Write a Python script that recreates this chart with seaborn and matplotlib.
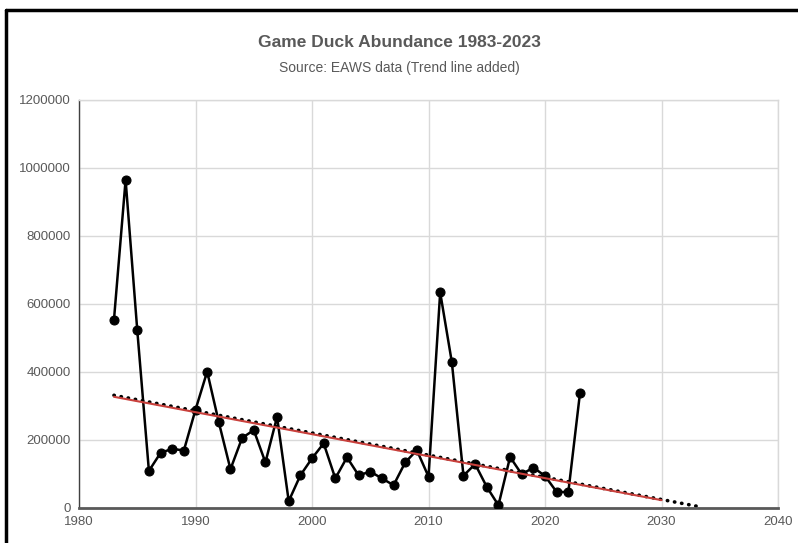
import numpy as np
import pandas as pd
import matplotlib
matplotlib.use('Agg')
import matplotlib.pyplot as plt
import seaborn as sns
from matplotlib.lines import Line2D

years = list(range(1983, 2024))
ducks = [553000, 965000, 523000, 109000, 162000, 174000, 169000, 289000, 401000, 252000,
         114000, 206000, 229000, 134000, 268000, 20000, 96000, 146000, 190000, 87000,
         149000, 96000, 107000, 87000, 67000, 134000, 170000, 92000, 634000, 429000,
         95000, 129000, 62000, 8000, 150000, 99000, 119000, 94000, 47000, 47000, 338000]

# hand drawn red line
red_years = [1983, 2030]
red_values = [327000, 23000]

x_ticks = [1980, 1990, 2000, 2010, 2020, 2030, 2040]
y_ticks = [0, 200000, 400000, 600000, 800000, 1000000, 1200000]

df = pd.DataFrame({'year': years, 'ducks': ducks})

sns.set_style('white')
plt.rcParams['font.family'] = ['Liberation Sans Narrow', 'Liberation Sans', 'DejaVu Sans']

fig = plt.figure(figsize=(7.98, 5.43), dpi=100)
ax = fig.add_axes([0.099, 0.0645, 0.876, 0.7515])

# linear trend, forecast 10 years forward
coef = np.polyfit(df['year'], df['ducks'], 1)
trend_x = np.array([1983, 2033])
ax.plot(trend_x, np.polyval(coef, trend_x), color='black', linestyle=(0, (0.1, 1.9)),
        linewidth=2.6, dash_capstyle='round', zorder=2)

sns.lineplot(data=df, x='year', y='ducks', ax=ax, color='black', marker='o',
             markersize=6.5, markeredgecolor='black', linewidth=1.8, zorder=3)

ax.plot(red_years, red_values, color='#c9403c', linewidth=1.5, zorder=4)

ax.set_xlim(1980, 2040)
ax.set_ylim(0, 1200000)
ax.set_xticks(x_ticks)
ax.set_yticks(y_ticks)
ax.set_xticklabels([str(t) for t in x_ticks])
ax.set_yticklabels([str(t) for t in y_ticks])
ax.tick_params(colors='#595959', labelsize=9.5, length=0, pad=6)
ax.set_xlabel('')
ax.set_ylabel('')
ax.grid(True, color='#d9d9d9', linewidth=1)
for s in ['top', 'right']:
    ax.spines[s].set_color('#d9d9d9')
    ax.spines[s].set_linewidth(1)
ax.spines['left'].set_color('#404040')
ax.spines['left'].set_linewidth(1)
ax.spines['bottom'].set_color('#595959')
ax.spines['bottom'].set_linewidth(2)

fig.text(0.5, 0.922, 'Game Duck Abundance 1983-2023', ha='center', va='center',
         fontsize=12.5, color='#595959', fontweight='bold')
fig.text(0.5, 0.875, 'Source: EAWS data (Trend line added)', ha='center', va='center',
         fontsize=10, color='#595959')

# black frame at top and left of the crop
fig.add_artist(Line2D([0.0075, 1.0], [0.981, 0.981], color='black', linewidth=2.5,
                      transform=fig.transFigure))
fig.add_artist(Line2D([0.0075, 0.0075], [0.0, 0.981], color='black', linewidth=2.5,
                      transform=fig.transFigure))

fig.savefig('out.png', dpi=100)
